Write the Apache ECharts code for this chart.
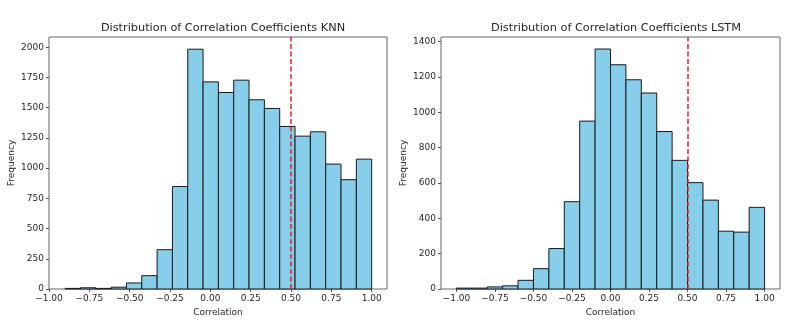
<!DOCTYPE html>
<html><head><meta charset="utf-8">
<script src="https://cdn.jsdelivr.net/npm/echarts@6/dist/echarts.min.js"></script>
<style>html,body{margin:0;padding:0;background:#fff}#c{width:801px;height:332px}</style>
</head><body><div id="c"></div>
<script>
// KNN histogram: 20 bins starting at -0.9, width 0.095
const knnFirstEdge = -0.9;
const knnBinWidth = 0.095;
const knnCounts = [5,10,5,15,50,110,325,848,1983,1713,1625,1727,1565,1493,1344,1264,1300,1033,904,1074];
// LSTM histogram: 20 bins starting at -1.0, width 0.1
const lstmFirstEdge = -1.0;
const lstmBinWidth = 0.1;
const lstmCounts = [5,5,12,18,49,115,229,494,950,1358,1269,1184,1109,891,728,602,503,327,322,462];
const xTicks = [-1,-0.75,-0.5,-0.25,0,0.25,0.5,0.75,1];
const knnYTicks = [0,250,500,750,1000,1250,1500,1750,2000];
const lstmYTicks = [0,200,400,600,800,1000,1200,1400];
const threshold = 0.5;
const titles = ['Distribution of Correlation Coefficients KNN','Distribution of Correlation Coefficients LSTM'];

function bins(first, w, counts){
  return counts.map((c,i)=>[first+i*w, first+(i+1)*w, c]);
}
const knnData = bins(knnFirstEdge, knnBinWidth, knnCounts);
const lstmData = bins(lstmFirstEdge, lstmBinWidth, lstmCounts);

const FONT = 'DejaVu Sans';
const TXT = '#262626';
function fmtX(v){ return (v<0?'\u2212':'') + Math.abs(v).toFixed(2); }

function renderItem(params, api){
  const p0 = api.coord([api.value(0), api.value(2)]);
  const p1 = api.coord([api.value(1), 0]);
  return {type:'rect', shape:{x:p0[0], y:p0[1], width:p1[0]-p0[0], height:p1[1]-p0[1]},
    style:{fill:'#87CEEB', stroke:'#1a1a1a', lineWidth:1}};
}

function xAxis(gi, min, max){
  return {type:'value', gridIndex:gi, min:min, max:max, name:'Correlation', nameLocation:'middle', nameGap:17,
    nameTextStyle:{fontFamily:FONT, fontSize:9, color:TXT},
    splitLine:{show:false}, axisLine:{show:false, onZero:false},
    axisTick:{show:true, length:3, customValues:xTicks, lineStyle:{color:'#555'}},
    axisLabel:{customValues:xTicks, formatter:fmtX, fontFamily:FONT, fontSize:9, color:TXT, margin:5}};
}
function yAxis(gi, max, ticks){
  return {type:'value', gridIndex:gi, min:0, max:max, name:'Frequency', nameLocation:'middle', nameGap:33,
    nameTextStyle:{fontFamily:FONT, fontSize:9, color:TXT},
    splitLine:{show:false}, axisLine:{show:false, onZero:false},
    axisTick:{show:true, length:3, customValues:ticks, lineStyle:{color:'#555'}},
    axisLabel:{customValues:ticks, formatter:v=>String(v), fontFamily:FONT, fontSize:9, color:TXT, margin:5}};
}

const chart = echarts.init(document.getElementById('c'), null, {renderer:'canvas'});
chart.setOption({
  backgroundColor:'#fff',
  animation:false,
  title:[
    {text:titles[0], left:218, top:18, textAlign:'center', textStyle:{fontFamily:FONT, fontSize:11.3, fontWeight:'normal', color:TXT}},
    {text:titles[1], left:611, top:18, textAlign:'center', textStyle:{fontFamily:FONT, fontSize:11.3, fontWeight:'normal', color:TXT}}
  ],
  grid:[
    {left:49, right:414, top:37, bottom:43, show:true, borderColor:'#666', borderWidth:1, backgroundColor:'transparent'},
    {left:441, right:21, top:37, bottom:43, show:true, borderColor:'#666', borderWidth:1, backgroundColor:'transparent'}
  ],
  xAxis:[xAxis(0, -1.0, 1.095), xAxis(1, -1.1, 1.1)],
  yAxis:[yAxis(0, 2084, knnYTicks), yAxis(1, 1426, lstmYTicks)],
  series:[
    {type:'custom', xAxisIndex:0, yAxisIndex:0, renderItem:renderItem, encode:{x:[0,1], y:2}, data:knnData},
    {type:'custom', xAxisIndex:1, yAxisIndex:1, renderItem:renderItem, encode:{x:[0,1], y:2}, data:lstmData},
    {type:'line', xAxisIndex:0, yAxisIndex:0, data:[], silent:true,
      markLine:{symbol:'none', silent:true, label:{show:false}, emphasis:{disabled:true}, lineStyle:{color:'#ee1c25', type:[5,2.5], width:1.5}, data:[{xAxis:threshold}]}},
    {type:'line', xAxisIndex:1, yAxisIndex:1, data:[], silent:true,
      markLine:{symbol:'none', silent:true, label:{show:false}, emphasis:{disabled:true}, lineStyle:{color:'#ee1c25', type:[5,2.5], width:1.5}, data:[{xAxis:threshold}]}}
  ]
});
</script></body></html>
